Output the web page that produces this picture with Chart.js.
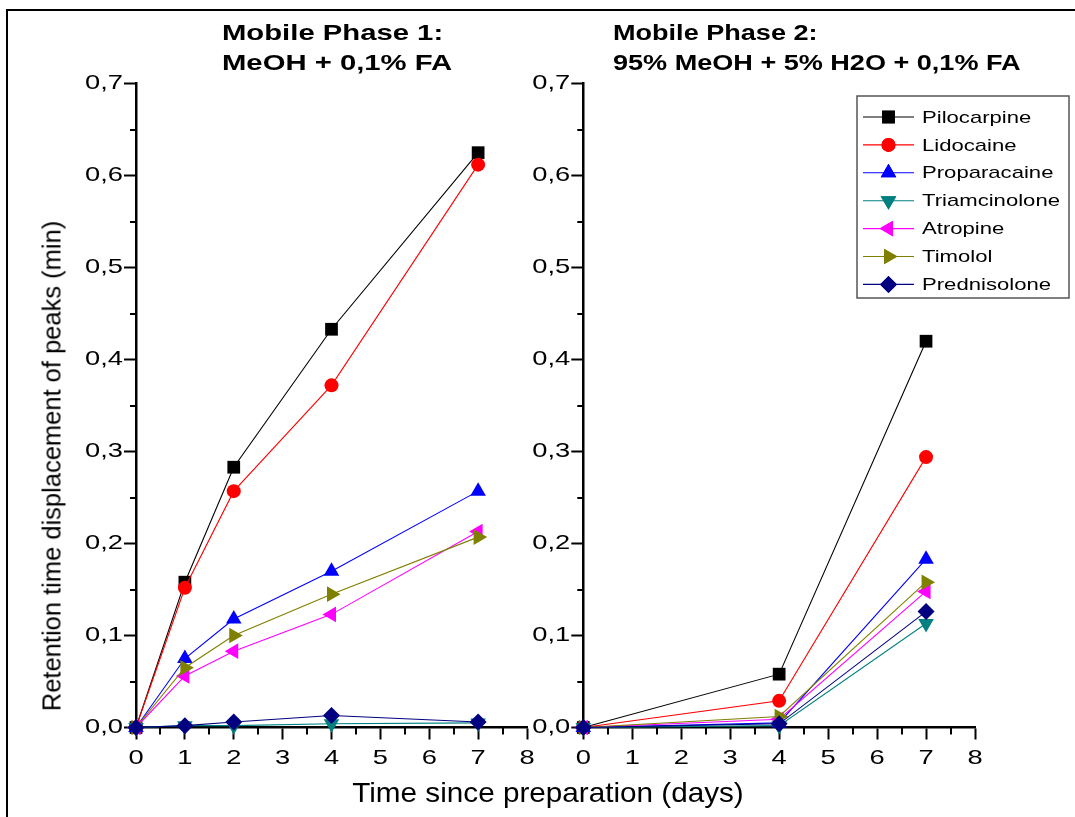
<!DOCTYPE html>
<html>
<head>
<meta charset="utf-8">
<script src="https://cdn.jsdelivr.net/npm/chart.js@4.4.1/dist/chart.umd.min.js"></script>
<style>
  html, body { margin: 0; padding: 0; background: #fff; }
  body { width: 1075px; height: 817px; position: relative; overflow: hidden;
         font-family: "Liberation Sans", Arial, sans-serif; color: #000; }
  .frame { position: absolute; left: 6px; top: 9px; right: -4px; bottom: -4px;
           border-left: 2px solid #000; border-top: 2px solid #000; }
  .panel { position: absolute; top: 0; height: 817px; }
  .ptitle { position: absolute; font-weight: bold; font-size: 22px; line-height: 30px;
            white-space: nowrap; transform-origin: 0 0; }
  .xtitle { position: absolute; left: 548px; top: 793px; font-size: 28px; white-space: nowrap;
            transform: translate(-50%, -50%) scaleX(1.06); }
  .ytitle { position: absolute; left: 52px; top: 466px; font-size: 25.5px; white-space: nowrap;
            transform: translate(-50%, -50%) rotate(-90deg); }
</style>
</head>
<body>
<div class="frame"></div>
<div class="panel" style="left:0;width:540px"><canvas id="c1" width="540" height="817"></canvas></div>
<div class="panel" style="left:528px;width:547px"><canvas id="c2" width="547" height="817"></canvas></div>
<div class="ptitle" style="left:222px;top:18px;transform:scaleX(1.33)">Mobile Phase 1:<br>MeOH + 0,1% FA</div>
<div class="ptitle" style="left:613px;top:18px;transform:scaleX(1.23)">Mobile Phase 2:<br>95% MeOH + 5% H2O + 0,1% FA</div>
<div class="xtitle">Time since preparation (days)</div>
<div class="ytitle">Retention time displacement of peaks (min)</div>
<script>
// Compounds and their plotting styles
const compounds = ['Pilocarpine', 'Lidocaine', 'Proparacaine', 'Triamcinolone', 'Atropine', 'Timolol', 'Prednisolone'];
const colors = ['#000000', '#FF0000', '#0000FF', '#008080', '#FF00FF', '#808000', '#000080'];
const markers = ['rect', 'circle', 'triangle', 'triangle', 'triangle', 'triangle', 'rectRot'];
const markerRotation = [0, 0, 0, 180, 270, 90, 0];
const markerRadius = [9, 7, 9, 9, 9, 9, 8.5];

// Mobile phase 1: MeOH + 0,1% FA
const days1 = [0, 1, 2, 4, 7];
const pilocarpine1 = [0, 0.158, 0.283, 0.433, 0.625];
const lidocaine1 = [0, 0.152, 0.257, 0.372, 0.612];
const proparacaine1 = [0, 0.075, 0.118, 0.170, 0.257];
const triamcinolone1 = [0, 0.002, 0.002, 0.004, 0.005];
const atropine1 = [0, 0.056, 0.083, 0.123, 0.213];
const timolol1 = [0, 0.065, 0.100, 0.145, 0.207];
const prednisolone1 = [0, 0.002, 0.006, 0.013, 0.006];

// Mobile phase 2: 95% MeOH + 5% H2O + 0,1% FA
const days2 = [0, 4, 7];
const pilocarpine2 = [0, 0.058, 0.420];
const lidocaine2 = [0, 0.029, 0.294];
const proparacaine2 = [0, 0.005, 0.183];
const triamcinolone2 = [0, 0.002, 0.113];
const atropine2 = [0, 0.009, 0.148];
const timolol2 = [0, 0.012, 0.158];
const prednisolone2 = [0, 0.004, 0.126];

// Axis tick labels
const xTickLabels = ['0', '1', '2', '3', '4', '5', '6', '7', '8'];
const yTickLabels = ['0,0', '0,1', '0,2', '0,3', '0,4', '0,5', '0,6', '0,7'];

const series1 = [pilocarpine1, lidocaine1, proparacaine1, triamcinolone1, atropine1, timolol1, prednisolone1];
const series2 = [pilocarpine2, lidocaine2, proparacaine2, triamcinolone2, atropine2, timolol2, prednisolone2];

const TEXT_STRETCH = 1.3;
const FONT = '"Liberation Sans", Arial, sans-serif';

// Canvas text in these panels is set horizontally widened around its anchor point
function widenText(canvas) {
  const ctx = canvas.getContext('2d');
  const base = ctx.fillText.bind(ctx);
  ctx.fillText = function (text, x, y, maxWidth) {
    this.save();
    this.translate(x, y);
    this.scale(TEXT_STRETCH, 1);
    if (maxWidth === undefined) base(text, 0, 0);
    else base(text, 0, 0, maxWidth / TEXT_STRETCH);
    this.restore();
  };
}

function buildDatasets(days, series) {
  return series.map((vals, i) => ({
    label: compounds[i],
    data: days.map((d, k) => ({ x: d, y: vals[k] })),
    borderColor: colors[i],
    backgroundColor: colors[i],
    borderWidth: 1.1,
    pointStyle: markers[i],
    pointRotation: markerRotation[i],
    pointRadius: markerRadius[i],
    pointBorderWidth: 0,
    pointBackgroundColor: colors[i],
    order: series.length - 1 - i,
    clip: false,
    tension: 0
  }));
}

// Short unlabeled ticks halfway between the labeled ones
const minorTicks = {
  id: 'minorTicks',
  afterDraw(chart) {
    const ctx = chart.ctx;
    const xs = chart.scales.x, ys = chart.scales.y;
    ctx.save();
    ctx.strokeStyle = '#000';
    ctx.lineWidth = 2;
    ctx.beginPath();
    for (let v = 0.5; v < 8; v += 1) {
      const px = Math.round(xs.getPixelForValue(v));
      ctx.moveTo(px, chart.chartArea.bottom);
      ctx.lineTo(px, chart.chartArea.bottom + 7);
    }
    for (let k = 0; k < 7; k++) {
      const py = Math.round(ys.getPixelForValue(0.05 + k * 0.1));
      ctx.moveTo(chart.chartArea.left, py);
      ctx.lineTo(chart.chartArea.left - 6, py);
    }
    ctx.stroke();
    ctx.restore();
  }
};

// Boxed legend with a line segment through each marker
const boxLegend = {
  id: 'boxLegend',
  afterDraw(chart, args, opts) {
    if (!opts || !opts.show) return;
    const ctx = chart.ctx;
    ctx.save();
    ctx.strokeStyle = '#555';
    ctx.lineWidth = 1.5;
    ctx.strokeRect(opts.left, opts.top, opts.width, opts.height);
    ctx.font = '17px ' + FONT;
    ctx.textBaseline = 'middle';
    ctx.textAlign = 'left';
    chart.data.datasets.forEach((ds, i) => {
      const y = opts.firstRow + i * opts.rowGap;
      ctx.strokeStyle = ds.borderColor;
      ctx.lineWidth = 1.1;
      ctx.beginPath();
      ctx.moveTo(opts.lineX0, y);
      ctx.lineTo(opts.lineX1, y);
      ctx.stroke();
      ctx.fillStyle = ds.pointBackgroundColor;
      Chart.helpers.drawPoint(ctx, {
        pointStyle: ds.pointStyle, rotation: ds.pointRotation,
        radius: ds.pointRadius, borderWidth: 0
      }, (opts.lineX0 + opts.lineX1) / 2, y);
      ctx.fill();
      ctx.fillStyle = '#000';
      ctx.fillText(ds.label, opts.textX, y + 1);
    });
    ctx.restore();
  }
};

function makeChart(canvasId, days, series, geom, legendOpts) {
  const canvas = document.getElementById(canvasId);
  widenText(canvas);
  return new Chart(canvas, {
    type: 'line',
    data: { datasets: buildDatasets(days, series) },
    options: {
      responsive: false,
      animation: false,
      events: [],
      layout: { padding: { left: 0, top: geom.top, right: geom.right, bottom: 0 } },
      scales: {
        x: {
          type: 'linear', min: 0, max: 8,
          afterFit(s) { s.height = geom.xHeight; },
          border: { display: true, color: '#000', width: 2.5 },
          grid: { drawOnChartArea: false, drawTicks: true, tickLength: 12, tickWidth: 2, tickColor: '#000' },
          ticks: {
            stepSize: 1, padding: 6, color: '#000', maxRotation: 0, autoSkip: false,
            font: { family: FONT, size: 21 },
            callback: (v) => xTickLabels[Math.round(v)]
          }
        },
        y: {
          type: 'linear', min: 0, max: 0.7,
          afterFit(s) { s.width = geom.yWidth; },
          border: { display: true, color: '#000', width: 2.5 },
          grid: { drawOnChartArea: false, drawTicks: true, tickLength: 12, tickWidth: 2, tickColor: '#000' },
          ticks: {
            stepSize: 0.1, padding: 1, color: '#000', autoSkip: false,
            font: { family: FONT, size: 21 },
            callback: (v) => yTickLabels[Math.round(v * 10)]
          }
        }
      },
      plugins: {
        legend: { display: false },
        tooltip: { enabled: false },
        boxLegend: legendOpts || { show: false }
      }
    },
    plugins: [minorTicks, boxLegend]
  });
}

makeChart('c1', days1, series1, { top: 83.7, right: 13, xHeight: 89.5, yWidth: 136 });
makeChart('c2', days2, series2, { top: 83.7, right: 100, xHeight: 89.5, yWidth: 55.3 }, {
  show: true, left: 329, top: 96, width: 212, height: 202,
  firstRow: 117, rowGap: 27.9, lineX0: 335, lineX1: 386, textX: 394
});
</script>
</body>
</html>
